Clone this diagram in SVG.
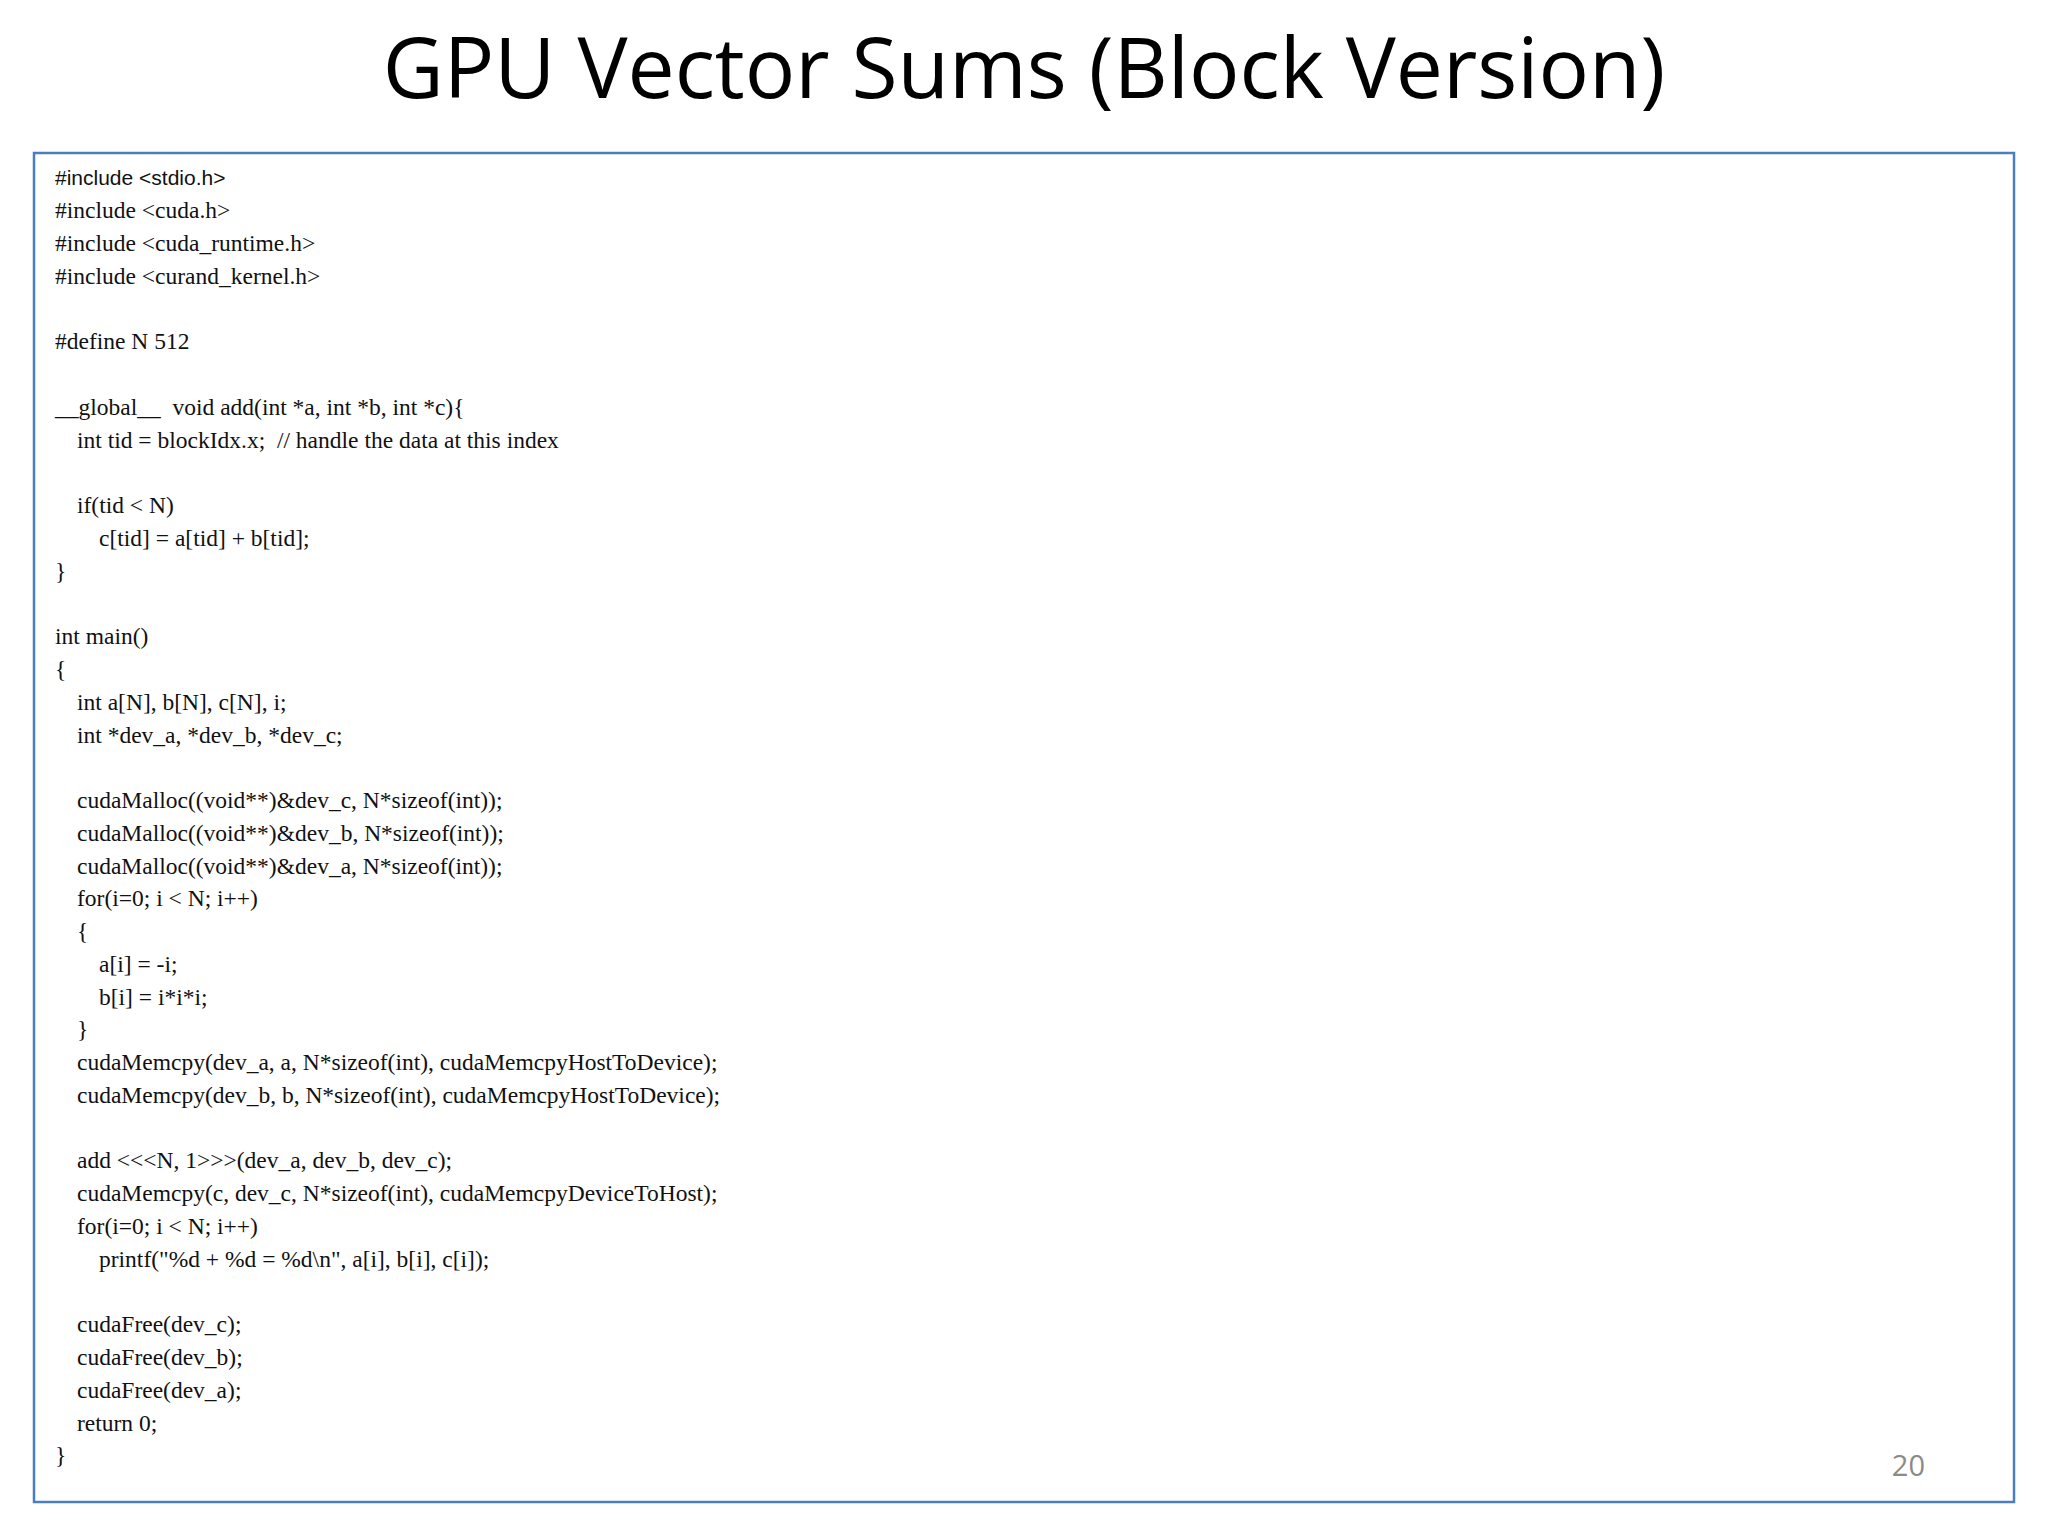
<svg xmlns="http://www.w3.org/2000/svg" width="2048" height="1536" viewBox="0 0 2048 1536">
<style>
.c{font-family:"Liberation Serif","Times New Roman",serif;font-size:23.5px;fill:#111;white-space:pre}
.s{font-family:"Liberation Sans",Arial,sans-serif;font-size:21px;fill:#111}
</style>
<rect width="2048" height="1536" fill="#fff"/>
<text x="1024" y="98" text-anchor="middle" font-family="Open Sans, Liberation Sans, sans-serif" font-size="84" fill="#000">GPU Vector Sums (Block Version)</text>
<g id="codebox">
<rect x="34" y="153" width="1980" height="1349" fill="#fff" stroke="#4a7ebf" stroke-width="2.5"/>
<g xml:space="preserve">
<text class="s" x="55" y="185">#include &lt;stdio.h&gt;</text>
<text class="c" x="55" y="218">#include &lt;cuda.h&gt;</text>
<text class="c" x="55" y="251">#include &lt;cuda_runtime.h&gt;</text>
<text class="c" x="55" y="284">#include &lt;curand_kernel.h&gt;</text>
<text class="c" x="55" y="349">#define N 512</text>
<text class="c" x="55" y="415">__global__  void add(int *a, int *b, int *c){</text>
<text class="c" x="77" y="448">int tid = blockIdx.x;  // handle the data at this index</text>
<text class="c" x="77" y="513">if(tid &lt; N)</text>
<text class="c" x="99" y="546">c[tid] = a[tid] + b[tid];</text>
<text class="c" x="55" y="579">}</text>
<text class="c" x="55" y="644">int main()</text>
<text class="c" x="55" y="677">{</text>
<text class="c" x="77" y="710">int a[N], b[N], c[N], i;</text>
<text class="c" x="77" y="743">int *dev_a, *dev_b, *dev_c;</text>
<text class="c" x="77" y="808">cudaMalloc((void**)&amp;dev_c, N*sizeof(int));</text>
<text class="c" x="77" y="841">cudaMalloc((void**)&amp;dev_b, N*sizeof(int));</text>
<text class="c" x="77" y="874">cudaMalloc((void**)&amp;dev_a, N*sizeof(int));</text>
<text class="c" x="77" y="906">for(i=0; i &lt; N; i++)</text>
<text class="c" x="77" y="939">{</text>
<text class="c" x="99" y="972">a[i] = -i;</text>
<text class="c" x="99" y="1005">b[i] = i*i*i;</text>
<text class="c" x="77" y="1037">}</text>
<text class="c" x="77" y="1070">cudaMemcpy(dev_a, a, N*sizeof(int), cudaMemcpyHostToDevice);</text>
<text class="c" x="77" y="1103">cudaMemcpy(dev_b, b, N*sizeof(int), cudaMemcpyHostToDevice);</text>
<text class="c" x="77" y="1168">add &lt;&lt;&lt;N, 1&gt;&gt;&gt;(dev_a, dev_b, dev_c);</text>
<text class="c" x="77" y="1201">cudaMemcpy(c, dev_c, N*sizeof(int), cudaMemcpyDeviceToHost);</text>
<text class="c" x="77" y="1234">for(i=0; i &lt; N; i++)</text>
<text class="c" x="99" y="1267">printf("%d + %d = %d\n", a[i], b[i], c[i]);</text>
<text class="c" x="77" y="1332">cudaFree(dev_c);</text>
<text class="c" x="77" y="1365">cudaFree(dev_b);</text>
<text class="c" x="77" y="1398">cudaFree(dev_a);</text>
<text class="c" x="77" y="1431">return 0;</text>
<text class="c" x="55" y="1463">}</text>
</g>
<text x="1925" y="1476" text-anchor="end" font-family="Open Sans, Liberation Sans, sans-serif" font-size="29" fill="#8a8a8a">20</text>
</g>
</svg>
